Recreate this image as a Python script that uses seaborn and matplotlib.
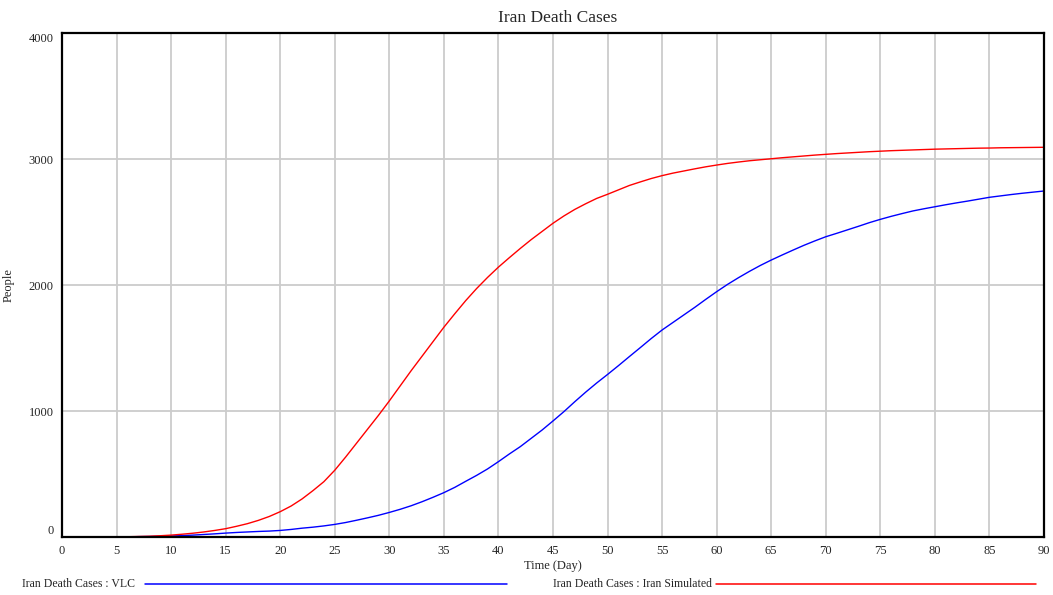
import numpy as np
import pandas as pd
import seaborn as sns
import matplotlib.pyplot as plt
from matplotlib.lines import Line2D

# --- Data (one value per day) ---
days = list(range(0, 91))

vlc = [0, 0, 0, 0, 0, 1, 1, 3, 4, 6,
       8, 11, 15, 20, 25, 31, 36, 40, 44, 47,
       52, 60, 70, 78, 88, 100, 115, 133, 152, 172,
       195, 220, 248, 280, 315, 352, 394, 442, 489, 540,
       598, 659, 717, 783, 849, 921, 995, 1074, 1150, 1222,
       1290, 1360, 1432, 1503, 1575, 1643, 1703, 1763, 1823, 1886,
       1947, 2005, 2058, 2108, 2155, 2198, 2238, 2277, 2315, 2350,
       2383, 2410, 2438, 2466, 2495, 2521, 2545, 2567, 2588, 2605,
       2621, 2637, 2652, 2666, 2681, 2696, 2707, 2718, 2728, 2737,
       2746]

iran_simulated = [0, 0, 0, 0, 0, 1, 2, 4, 6, 10,
                  15, 22, 30, 40, 52, 66, 85, 106, 132, 163,
                  201, 246, 302, 368, 439, 530, 635, 745, 855, 965,
                  1080, 1200, 1320, 1435, 1550, 1665, 1772, 1876, 1972, 2060,
                  2142, 2217, 2290, 2360, 2425, 2490, 2548, 2600, 2645, 2687,
                  2720, 2755, 2790, 2818, 2845, 2868, 2888, 2905, 2922, 2938,
                  2952, 2965, 2976, 2986, 2994, 3002, 3010, 3017, 3024, 3031,
                  3037, 3043, 3048, 3053, 3058, 3062, 3066, 3069, 3072, 3075,
                  3078, 3080, 3082, 3084, 3086, 3087, 3089, 3090, 3091, 3092,
                  3093]

series_names = ['Iran Death Cases : VLC', 'Iran Death Cases : Iran Simulated']
series_colors = ['#0000ff', '#ff0000']
y_ticks = [0, 1000, 2000, 3000, 4000]
x_ticks = list(range(0, 91, 5))

df = pd.DataFrame({'Time': days + days,
                   'People': vlc + iran_simulated,
                   'Series': [series_names[0]] * len(days) + [series_names[1]] * len(days)})

# --- Style ---
sns.set_theme(style="white")
plt.rcParams['font.family'] = ['Liberation Serif', 'DejaVu Serif']

fig = plt.figure(figsize=(10.53, 5.95), dpi=100)
ax = fig.add_axes([62 / 1053, 1 - 537 / 595, (1044 - 62) / 1053, (537 - 33) / 595])

sns.lineplot(data=df, x='Time', y='People', hue='Series', palette=series_colors,
             linewidth=1.0, legend=False, ax=ax)

ax.set_xlim(0, 90)
ax.set_ylim(0, 4000)
ax.set_xticks(x_ticks)
ax.set_yticks(y_ticks)
ax.set_xticklabels([str(t) for t in x_ticks], fontsize=9)
ax.set_yticklabels([str(t) for t in y_ticks], fontsize=9)
ax.tick_params(length=0, pad=6)
ylabels = ax.get_yticklabels()
ylabels[0].set_va('bottom')
ylabels[-1].set_va('top')

ax.grid(True, color='#cccccc', linewidth=1.3)
ax.set_axisbelow(True)
for s in ax.spines.values():
    s.set_visible(True)
    s.set_color('black')
    s.set_linewidth(1.6)

ax.set_xlabel('Time (Day)', fontsize=9, labelpad=2)
ax.set_ylabel('People', fontsize=9)
ax.yaxis.set_label_coords((15 - 62) / 982, 0.5)
ax.set_title('Iran Death Cases', fontsize=12.5, pad=8, x=0.505)

# --- Legend along the bottom ---
legend_y = 1 - 584 / 595
fig.text(22 / 1053, legend_y, series_names[0], fontsize=8.5, va='center', ha='left')
fig.add_artist(Line2D([145 / 1053, 507 / 1053], [legend_y, legend_y],
                      color=series_colors[0], linewidth=1.1))
fig.text(553 / 1053, legend_y, series_names[1], fontsize=8.5, va='center', ha='left')
fig.add_artist(Line2D([716 / 1053, 1036 / 1053], [legend_y, legend_y],
                      color=series_colors[1], linewidth=1.1))

fig.savefig('out.png', dpi=100)
